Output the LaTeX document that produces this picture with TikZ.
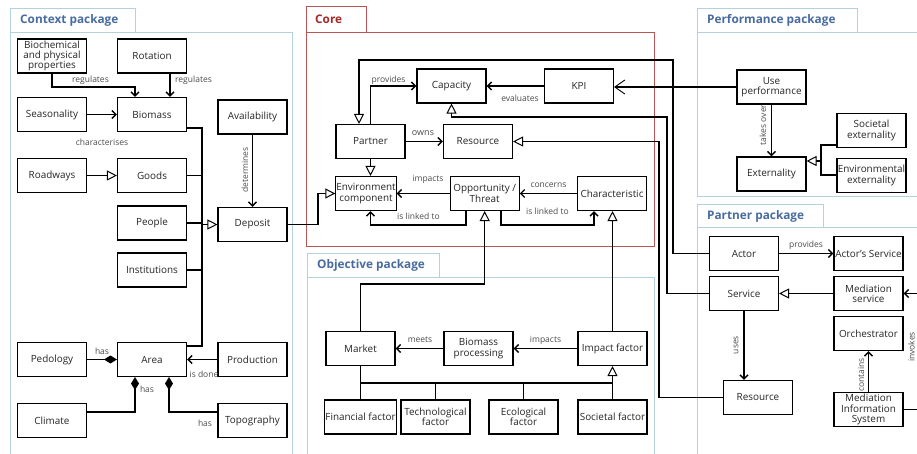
\documentclass[tikz,border=0pt]{standalone}
\usepackage{fontspec}
\setmainfont{Open Sans}
\usetikzlibrary{arrows.meta}
\definecolor{pkgblue}{RGB}{72,108,160}
\definecolor{pkgred}{RGB}{165,40,40}
\definecolor{framecol}{RGB}{178,210,220}
\definecolor{corecol}{RGB}{185,85,85}
\begin{document}
\begin{tikzpicture}[x=1pt,y=-1pt,
  box/.style={draw, line width=1.1pt, minimum width=69pt, minimum height=34pt, inner sep=0.5pt, align=center, font=\fontsize{9.9}{10.3}\selectfont, text=black!85},
  lbl/.style={font=\fontsize{8.5}{9}\selectfont, text=black!70, inner sep=0pt},
  ttl/.style={font=\fontsize{11.8}{12}\selectfont\bfseries, text=pkgblue, anchor=west, inner sep=0pt},
  frm/.style={draw=framecol, line width=0.8pt},
  con/.style={line width=1.4pt, line join=miter},
  arr/.style={-{Straight Barb[length=4pt,width=8pt]}},
  bigarr/.style={-{Straight Barb[length=10pt,width=14pt,line width=0.9pt]}},
  tri/.style={-{Triangle[open,length=10pt,width=10pt,fill=white,line width=1pt]}},
  dia/.style={-{Diamond[length=13pt,width=8pt]}}
]
\useasboundingbox (0,0) rectangle (917,454);
\fill[white] (0,0) rectangle (917,454);
% ---------- frames ----------
\draw[frm] (10,8) rectangle (135,32);
\draw[frm] (10,32) rectangle (292,460);
\node[ttl] (tctx) at (20,20) {Context package};
\draw[draw=corecol, line width=0.8pt] (306,6) rectangle (366,32);
\draw[draw=corecol, line width=0.8pt] (306,32) rectangle (654,246);
\node[ttl, text=pkgred] (tcore) at (315,19) {Core};
\draw[frm] (307,253) rectangle (439,277);
\draw[frm] (307,277) rectangle (654,460);
\node[ttl] (tobj) at (317,265) {Objective package};
\draw[frm] (697,8) rectangle (857,32);
\draw[frm] (697,32) rectangle (925,196);
\node[ttl] (tperf) at (707,20) {Performance package};
\draw[frm] (697,204) rectangle (823,227);
\draw[frm] (697,227) rectangle (925,460);
\node[ttl] (tpart) at (707,216) {Partner package};
% ---------- context nodes ----------
\node[box] (bio) at (52,56) {Biochemical\\and physical\\properties};
\node[box] (rot) at (152,56) {Rotation};
\node[box] (seas) at (52,114.5) {Seasonality};
\node[box] (biomass) at (152,114.5) {Biomass};
\node[box] (avail) at (252.5,117) {Availability};
\node[box] (road) at (52,175.5) {Roadways};
\node[box] (goods) at (152,175.5) {Goods};
\node[box] (people) at (152,223) {People};
\node[box] (deposit) at (252.5,224.5) {Deposit};
\node[box] (inst) at (152,270) {Institutions};
\node[box] (ped) at (52,359.5) {Pedology};
\node[box] (area) at (152,359.5) {Area};
\node[box] (prod) at (252.5,359.5) {Production};
\node[box] (clim) at (52,420.5) {Climate};
\node[box] (topo) at (252.5,420.5) {Topography};
% ---------- core nodes ----------
\node[box] (cap) at (451.5,86) {Capacity};
\node[box] (kpi) at (579,86) {KPI};
\node[box] (partner) at (370.5,141.5) {Partner};
\node[box] (cres) at (478,141.5) {Resource};
\node[box, minimum width=60pt] (env) at (366,193.5) {Environment\\component};
\node[box] (opp) at (484.7,193.5) {Opportunity /\\Threat};
\node[box] (char) at (612,193.5) {Characteristic};
% ---------- objective nodes ----------
\node[box] (market) at (360.5,348.5) {Market};
\node[box] (bproc) at (478.5,348.5) {Biomass\\processing};
\node[box] (impact) at (612.5,348.5) {Impact factor};
\node[box] (fin) at (360.5,417) {Financial factor};
\node[box] (tech) at (435.5,417) {Technological\\factor};
\node[box] (eco) at (523.5,417) {Ecological\\factor};
\node[box] (soc) at (612.5,417) {Societal factor};
% ---------- performance nodes ----------
\node[box] (useperf) at (771.5,87) {Use\\performance};
\node[box] (ext) at (771.5,174) {Externality};
\node[box] (socext) at (871.5,130.5) {Societal\\externality};
\node[box] (envext) at (871.5,175.5) {Environmental\\externality};
% ---------- partner nodes ----------
\node[box] (actor) at (744,253.5) {Actor};
\node[box] (actserv) at (868.5,253.5) {Actor's Service};
\node[box] (service) at (744,293.5) {Service};
\node[box] (medserv) at (868.5,293.5) {Mediation\\service};
\node[box] (orch) at (868.5,333.5) {Orchestrator};
\node[box] (pres) at (758,397.5) {Resource};
\node[box] (mis) at (868.5,409.5) {Mediation\\Information\\System};
% ---------- context connectors ----------
\draw[con,arr] (bio.south) -- (bio.south |- 0,87) -| ([xshift=-17pt]biomass.north);
\node[lbl] (l1) at (90.5,80) {regulates};
\draw[con,arr] (rot.south -| 170,0) -- (biomass.north -| 170,0);
\node[lbl] (l2) at (193.5,80) {regulates};
\draw[con,arr] (seas.east) -- (biomass.west);
\node[lbl] (l3) at (102,142) {characterises};
\draw[con,tri] (road.east) -- (goods.east -| goods.west);
\coordinate (bus) at (202,0);
\draw[con] (biomass.east |- 0,128) -| (bus |- 0,346) -- (area.east |- 0,346);
\draw[con] (goods.east) -- (goods.east -| bus);
\draw[con] (people.east) -- (people.east -| bus);
\draw[con] (inst.east) -- (inst.east -| bus);
\draw[con,tri] (deposit.west -| bus) -- (deposit.west);
\draw[con,arr] (avail.south) -- (deposit.north);
\node[lbl, rotate=90] (l4) at (245,170) {determines};
\draw[con,dia] (ped.east) -- (area.west);
\node[lbl] (l5) at (102,351) {has};
\draw[con,arr] (prod.west) -- (area.east);
\node[lbl] (l6) at (204,374.5) {is done};
\draw[con,dia] (clim.east |- 0,412) -| ([xshift=-17pt]area.south);
\node[lbl] (l7) at (147,389) {has};
\draw[con,dia] (topo.west |- 0,412) -| ([xshift=17pt]area.south);
\node[lbl] (l8) at (205,423) {has};
\draw[con,tri] (deposit.east) -- (deposit.east -| 318,0) |- (env.west);
% ---------- core connectors ----------
\draw[con,tri] (actor.west) -| (673,60) -| ([xshift=-11.5pt]partner.north);
\draw[con,tri] (service.west) -| (667,117) -| (cap.south);
\draw[con,tri] (pres.west) -| (cres.east -| 659,0) -- (cres.east);
\draw[con,arr] (kpi.west) -- (cap.east);
\node[lbl] (l9) at (520,98) {evaluates};
\draw[con,bigarr] (useperf.west) -- (useperf.west -| kpi.east);
\draw[con,arr] (partner.north) |- (cap.west);
\node[lbl] (l10) at (388.5,80) {provides};
\draw[con,arr] (partner.east) -- (cres.west);
\node[lbl, font=\fontsize{9}{9}\selectfont] (l11) at (423,133) {owns};
\draw[con,tri] (partner.south) -- (partner.south |- env.north);
\draw[con,arr] (opp.west) -- (env.east);
\node[lbl] (l12) at (428,179) {impacts};
\draw[con,arr] ([xshift=-18.7pt]opp.south) -- ++(0,14) -| ([xshift=4.5pt]env.south);
\node[lbl] (l13) at (418.5,216) {is linked to};
\draw[con,arr] (char.west) -- (opp.east);
\node[lbl] (l14) at (548.5,185) {concerns};
\draw[con,arr] ([xshift=16.3pt]opp.south) -- ++(0,14) -| ([xshift=-18pt]char.south);
\node[lbl] (l15) at (547.5,211) {is linked to};
\draw[con,tri] (market.north) |- (opp.south |- 0,284) -- (opp.south);
\draw[con,tri] (impact.north) -- (impact.north |- char.south);
% ---------- objective connectors ----------
\draw[con,arr] (bproc.west) -- (market.east);
\node[lbl] (l16) at (420,340) {meets};
\draw[con,arr] (impact.west) -- (bproc.east);
\node[lbl] (l17) at (545.5,340) {impacts};
\draw[con] (fin.north) -- (market.south);
\draw[con] (market.south |- 0,383) -- (soc.north |- 0,383);
\draw[con] (tech.north) -- (tech.north |- 0,383);
\draw[con] (eco.north) -- (eco.north |- 0,383);
\draw[con,tri] (soc.north) -- (impact.south);
% ---------- performance connectors ----------
\draw[con,arr] (useperf.south) -- (ext.north);
\node[lbl, rotate=90] (l18) at (763,125) {takes over};
\draw[con] (socext.west |- 0,145) -| (821,175) -- (envext.west |- 0,175);
\draw[con,tri] (821,161) -- (ext.east |- 0,161);
% ---------- partner connectors ----------
\draw[con,arr] (actor.east) -- (actserv.west);
\node[lbl] (l19) at (806,245) {provides};
\draw[con,tri] (medserv.west) -- (service.east);
\draw[con,arr] (service.south) -- (service.south |- pres.north);
\node[lbl, rotate=90] (l20) at (736,345) {uses};
\draw[con,arr] (mis.north) -- (orch.south);
\node[lbl, rotate=90] (l21) at (861,375) {contains};
\draw[con,arr] (mis.east) -- (mis.east -| 930,0) |- (medserv.east);
\node[lbl, rotate=90] (l22) at (911.5,347) {invokes};
\end{tikzpicture}
\end{document}
